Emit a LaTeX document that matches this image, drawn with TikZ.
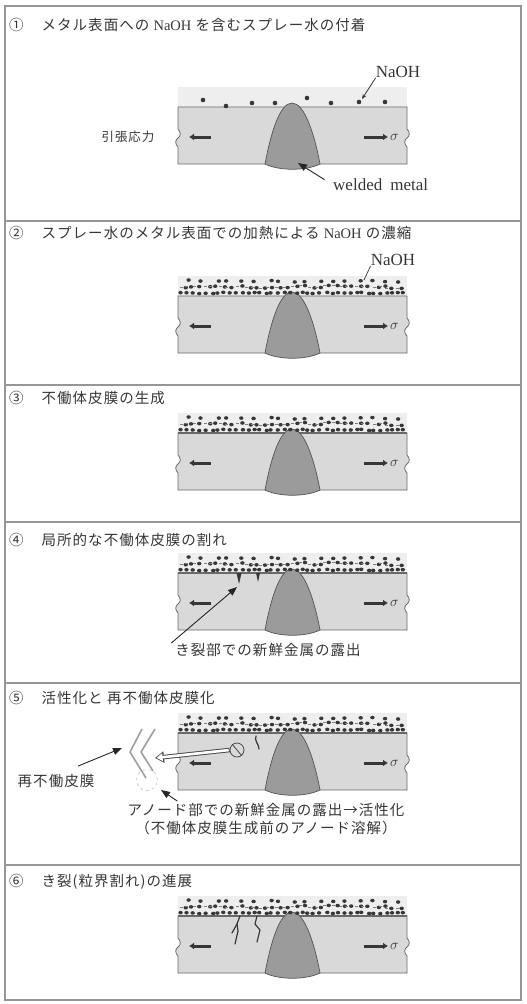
\documentclass[tikz,border=0pt]{standalone}
\usepackage{fontspec}
\setmainfont{Liberation Serif}
\newfontfamily\jpfont{Noto Sans CJK JP}[LetterSpace=7]
\usetikzlibrary{arrows.meta,positioning}
\definecolor{ink}{RGB}{55,55,55}
\definecolor{plate}{RGB}{217,217,217}
\definecolor{weld}{RGB}{155,155,155}
\definecolor{water}{RGB}{238,238,238}
\definecolor{rim}{RGB}{105,105,105}
\definecolor{framegray}{RGB}{150,150,150}
\tikzstyle{frame} = [draw=framegray, line width=1.6pt]
\tikzstyle{title} = [anchor=west, inner sep=0pt, text=ink, font=\jpfont\fontsize{14.5}{16}\selectfont]
\tikzstyle{jplabel} = [inner sep=0pt, text=ink, font=\jpfont\fontsize{14.5}{16}\selectfont]
\tikzstyle{jpsmall} = [inner sep=0pt, text=ink, font=\jpfont\fontsize{12.5}{14}\selectfont]
\tikzstyle{latin} = [inner sep=0pt, text=ink, font=\fontsize{17}{19}\selectfont]
\tikzstyle{sigma} = [anchor=west, inner sep=0pt, text=ink, font=\fontsize{15}{15}\selectfont]
\tikzstyle{stress} = [line width=3pt, ink, -{Latex[length=5pt,width=7pt]}]
\tikzstyle{pointer} = [line width=0.9pt, black!85, -{Triangle[length=9pt,width=7pt]}]
\tikzstyle{passfilm} = [draw=rim, line width=2pt]
\tikzstyle{crack} = [ink, line width=1.2pt, line join=round, line cap=round]
\tikzstyle{newfilm} = [gray!75, line width=1.6pt, line join=round]

% plate with weld bead; #1 = y of the plate surface, #2 = style of the surface line
\newcommand{\weldplate}[2]{%
  \fill[water] (178,{#1-20}) rectangle (407,#1);
  \draw[rim, fill=plate, line width=0.8pt]
    (178,#1) -- (407,#1) -- (407,{#1+22})
    .. controls (410,{#1+25}) and (410,{#1+29}) .. (407,{#1+31})
    .. controls (404,{#1+33}) and (404,{#1+37}) .. (407,{#1+40})
    -- (407,{#1+57}) -- (178,{#1+57}) -- (178,{#1+40})
    .. controls (175,{#1+37}) and (175,{#1+33}) .. (178,{#1+31})
    .. controls (181,{#1+29}) and (181,{#1+25}) .. (178,{#1+22})
    -- cycle;
  \draw[#2] (178,#1) -- (407,#1);
  \draw[rim!80!black, fill=weld, line width=0.7pt]
    (265,{#1+57}) .. controls (271,{#1+25}) and (280,{#1-4}) .. (292,{#1-4})
    .. controls (304,{#1-4}) and (314,{#1+25}) .. (320,{#1+57})
    .. controls (306,{#1+64}) and (279,{#1+64}) .. (265,{#1+57}) -- cycle;
  \draw[stress] (211,{#1+30}) -- (189,{#1+30});
  \draw[stress] (364,{#1+30}) -- (388,{#1+30});
  \node[sigma] at (390,{#1+30}) {$\sigma$};
}

% concentrated NaOH deposit on the surface
\newcommand{\naohfilm}[1]{%
  \pgfmathsetseed{23}%
  \foreach \px in {182,188,...,404}{%
    \pgfmathsetmacro{\jx}{\px+1.5*rand}%
    \pgfmathsetmacro{\jy}{#1-3+0.7*rand}%
    \fill[ink] (\jx,\jy) ellipse (2.2 and 1.8);
  }%
  \foreach \px in {185,193,...,404}{%
    \pgfmathsetmacro{\jx}{\px+2*rand}%
    \pgfmathsetmacro{\jy}{#1-9+1.6*rand}%
    \draw[gray, line width=0.9pt] (\jx-6,\jy) -- (\jx-3,\jy);
    \fill[ink] (\jx,\jy) ellipse (2.2 and 1.8);
  }%
  \foreach \px in {190,203,...,404}{%
    \pgfmathsetmacro{\jx}{\px+4*rand}%
    \pgfmathsetmacro{\jy}{#1-15+1*rand}%
    \fill[ink] (\jx,\jy) ellipse (2.2 and 1.8);
  }%
}

\begin{document}
\begin{tikzpicture}[x=1pt, y=-1pt]
\useasboundingbox (0,0) rectangle (527,1004);
\fill[white] (0,0) rectangle (527,1004);
\draw[frame] (5,6) rectangle (521,1000);
\foreach \y in {221,385,522,683,865} \draw[frame] (5,\y) -- (521,\y);

% (1) spray water on the surface
\node[title] (h1) at (9,25) {①\hspace{18pt}メタル表面への {\rmfamily NaOH} を含むスプレー水の付着};
\weldplate{107}{draw=none}
\foreach \dx/\dy in {203/100,226/106,252/103,275/103,307/98,331/103,359/102,385/102}
  \fill[ink] (\dx,\dy) circle (2.3);
\node[latin] (naoh1) at (398,72) {NaOH};
\coordinate (drop1) at (362,99);
\draw[-{Stealth[length=5pt,width=4pt]}, line width=0.8pt, ink] (naoh1.south west) -- (drop1);
\node[jpsmall] (tension) at (128,137) {引張応力};
\node[latin, anchor=west] (wm) at (333,185) {welded\hspace{8pt}metal};
\coordinate (weldtip) at (298,163);
\draw[pointer, shorten <=10pt] (wm.west) -- (weldtip);

% (2) concentration
\node[title] (h2) at (9,233) {②\hspace{18pt}スプレー水のメタル表面での加熱による {\rmfamily NaOH} の濃縮};
\weldplate{296}{draw=none}
\naohfilm{296}
\node[latin] (naoh2) at (393,260) {NaOH};
\coordinate (film2) at (364,280);
\draw[ink, line width=0.7pt] (naoh2.south west) -- (film2);

% (3) passive film
\node[title] (h3) at (9,398) {③\hspace{18pt}不働体皮膜の生成};
\weldplate{433}{passfilm}
\naohfilm{433}

% (4) local breakdown
\node[title] (h4) at (9,540) {④\hspace{18pt}局所的な不働体皮膜の割れ};
\weldplate{573}{passfilm}
\naohfilm{573}
\fill[ink] (236.5,573) -- (241.5,573) -- (239,584) -- cycle;
\fill[ink] (256,573) -- (260,573) -- (258,582) -- cycle;
\node[jplabel] (exposed) at (268,650) {き裂部での新鮮金属の露出};
\coordinate (crack4) at (237,587);
\draw[pointer] ([xshift=-4pt]exposed.north west) -- (crack4);

% (5) activation and repassivation
\node[title] (h5) at (9,698) {⑤\hspace{18pt}活性化と 再不働体皮膜化};
\weldplate{733}{passfilm}
\naohfilm{733}
\draw[crack] (256,736) .. controls (254,741) and (259,744) .. (259,749);
\node[draw=rim!70!black, circle, minimum size=14pt, inner sep=0pt, line width=0.8pt] (anode) at (237,750) {};
\draw[rim!70!black, line width=0.8pt] (anode.130) -- (anode.-50);
\coordinate (vent) at (155,758);
\draw[rim!70!black, line width=4.5pt, -{Triangle[length=9pt,width=11pt]}] (anode.west) -- (vent);
\draw[white, line width=2.6pt, shorten <=0.9pt, shorten >=1.6pt, -{Triangle[length=6pt,width=7.5pt]}] (anode.west) -- (vent);
\draw[newfilm] (142,729) -- (130,752) -- (146,778);
\draw[newfilm] (155,729) -- (141,752) -- (153,771);
\node[draw=gray!60, dashed, circle, minimum size=21pt, inner sep=0pt] (site) at (147,780) {};
\node[jplabel] (repass) at (56,781) {再不働皮膜};
\coordinate (wall) at (122,748);
\draw[pointer] ([xshift=22pt,yshift=8pt]repass.north) -- (wall);
\node[jplabel] (anode1) at (266,810) {アノード部での新鮮金属の露出→活性化};
\node[jplabel, below=4pt of anode1] (anode2) {（不働体皮膜生成前のアノード溶解）};
\coordinate (anodetip) at (161,790);
\draw[pointer] ([xshift=50pt,yshift=2pt]anode1.north west) -- (anodetip);

% (6) crack growth
\node[title] (h6) at (9,882) {⑥\hspace{18pt}き裂(粒界割れ)の進展};
\weldplate{916}{passfilm}
\naohfilm{916}
\draw[crack] (240,916) -- (237,924) -- (232,933);
\draw[crack] (237,924) -- (238,931) -- (235,944);
\draw[crack] (257,916) -- (255,924) -- (260,930) -- (257,942);
\end{tikzpicture}
\end{document}
